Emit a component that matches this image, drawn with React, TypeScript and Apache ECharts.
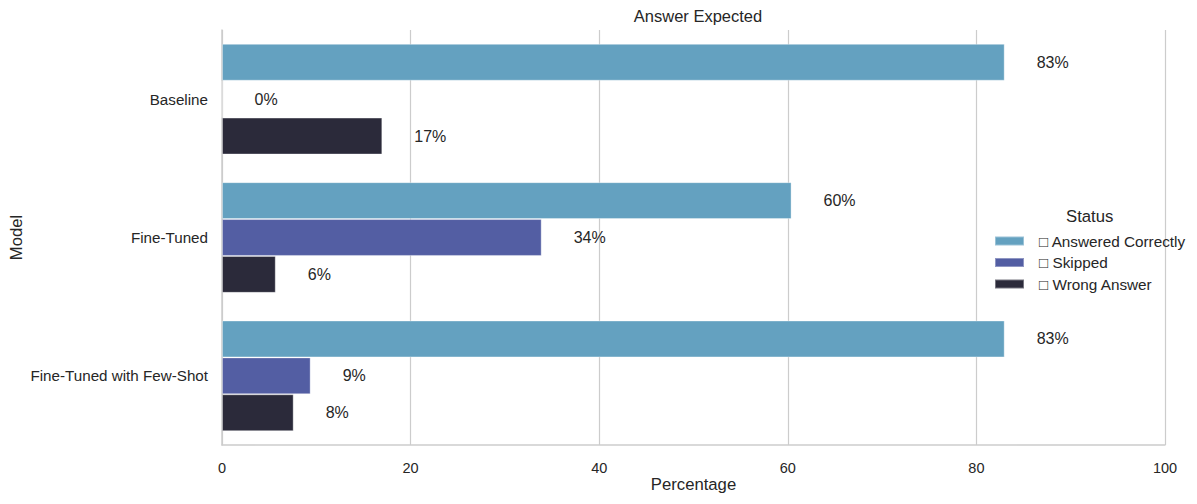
import React, { useEffect, useRef } from "react";
import * as echarts from "echarts";

const categories = ["Baseline", "Fine-Tuned", "Fine-Tuned with Few-Shot"];
const seriesNames = ["\u25A1 Answered Correctly", "\u25A1 Skipped", "\u25A1 Wrong Answer"];
const answeredCorrectly = [83.0, 60.4, 83.0];
const skipped = [0.0, 33.9, 9.4];
const wrongAnswer = [17.0, 5.7, 7.6];
const xTicks = [0, 20, 40, 60, 80, 100];
const colors = ["#64a1c0", "#535ea3", "#2b2a3a"];

const FONT = "Liberation Sans, Arial, sans-serif";

export default function App() {
  const ref = useRef<HTMLDivElement>(null);
  useEffect(() => {
    document.body.style.margin = "0";
    const chart = echarts.init(ref.current!, null, { renderer: "svg" });
    const values = [answeredCorrectly, skipped, wrongAnswer];
    chart.setOption({
      animation: false,
      textStyle: { fontFamily: FONT },
      title: {
        text: "Answer Expected",
        left: 693,
        textAlign: "center",
        top: 2,
        textStyle: { fontSize: 16.5, fontWeight: "normal", color: "#262626", fontFamily: FONT },
      },
      legend: {
        orient: "vertical",
        left: 989,
        top: 228.5,
        itemWidth: 29,
        itemHeight: 9,
        itemGap: 6.5,
        icon: "rect",
        data: seriesNames,
        textStyle: {
          fontSize: 15.3,
          lineHeight: 15,
          color: "#262626",
          fontFamily: FONT,
          padding: [0, 0, 0, 10],
        },
      },
      graphic: [
        {
          type: "text",
          left: 1066,
          top: 208,
          style: { text: "Status", fontSize: 16.7, fill: "#262626", fontFamily: FONT },
        },
      ],
      grid: { left: 222, right: 32, top: 30, bottom: 59, containLabel: false, outerBoundsMode: "none" },
      xAxis: {
        type: "value",
        min: 0,
        max: 100,
        interval: 20,
        name: "Percentage",
        nameLocation: "middle",
        nameGap: 31,
        nameMoveOverlap: false,
        nameTextStyle: { fontSize: 16.7, color: "#262626", fontFamily: FONT },
        axisLine: { show: true, lineStyle: { color: "#cccccc", width: 1.5 } },
        axisTick: { show: false },
        axisLabel: {
          fontSize: 14.5,
          color: "#262626",
          margin: 15,
          fontFamily: FONT,
          formatter: (v: number) => (xTicks.includes(v) ? String(v) : ""),
        },
        splitLine: { show: true, lineStyle: { color: "#cccccc", width: 1.2 } },
      },
      yAxis: {
        type: "category",
        data: categories,
        inverse: true,
        name: "Model",
        nameLocation: "middle",
        nameGap: 197,
        nameMoveOverlap: false,
        nameRotate: 90,
        nameTextStyle: { fontSize: 16.7, color: "#262626", fontFamily: FONT },
        axisLine: { show: true, lineStyle: { color: "#cccccc", width: 1.5 } },
        axisTick: { show: false },
        axisLabel: { fontSize: 15.2, color: "#262626", margin: 14, fontFamily: FONT },
        splitLine: { show: false },
      },
      series: seriesNames.map((name, i) => ({
        name,
        type: "bar",
        data: values[i],
        barGap: "0%",
        barCategoryGap: "20%",
        itemStyle: { color: colors[i], borderColor: "rgba(255,255,255,0.35)", borderWidth: 1 },
        label: {
          show: true,
          position: "right",
          distance: 32,
          fontSize: 16,
          color: "#262626",
          fontFamily: FONT,
          formatter: (p: any) => `${Math.round(p.value)}%`,
        },
      })),
    });
    return () => chart.dispose();
  }, []);
  return <div ref={ref} style={{ width: 1197, height: 504 }} />;
}
